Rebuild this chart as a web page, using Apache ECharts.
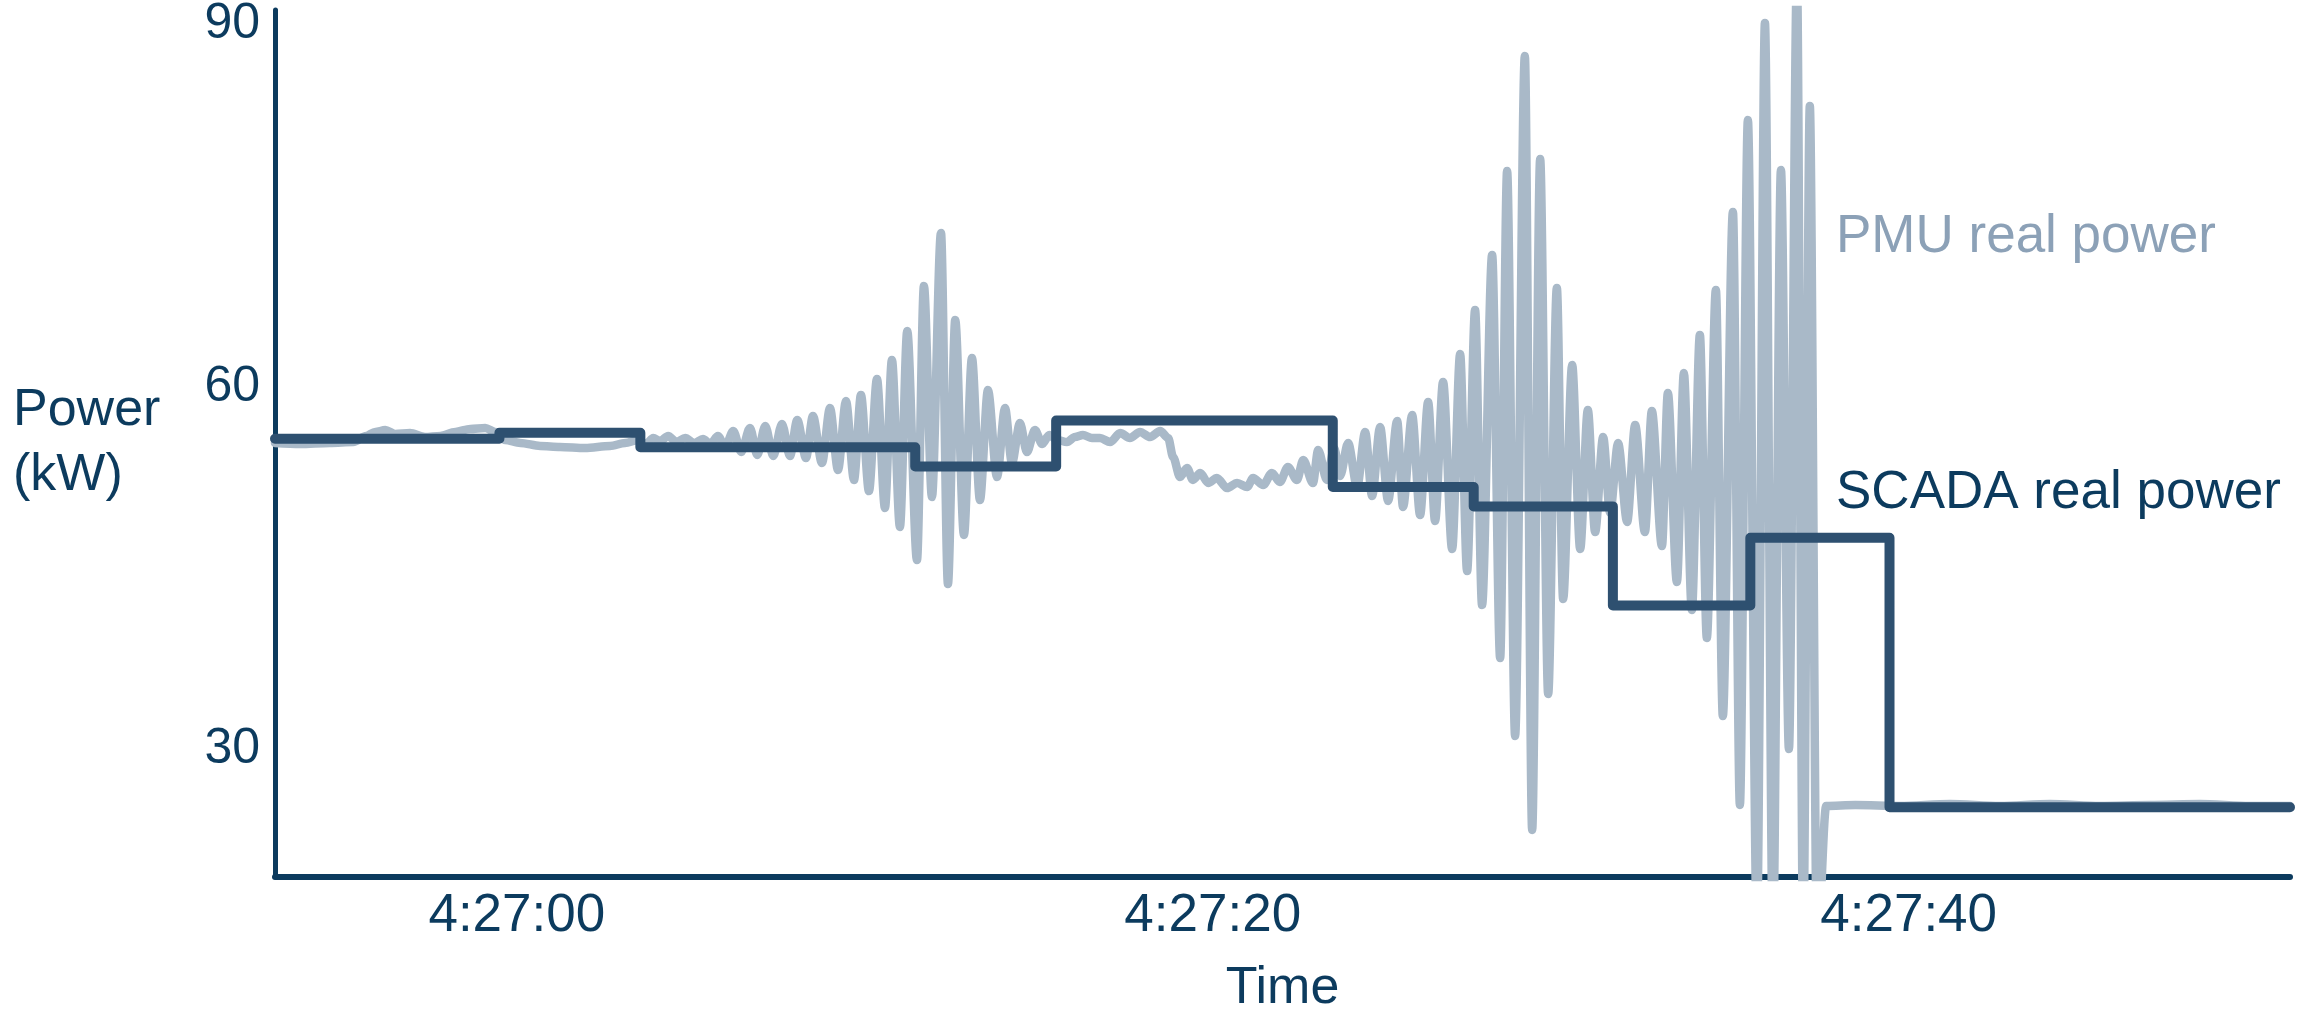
<!DOCTYPE html>
<html>
<head>
<meta charset="utf-8">
<title>PMU vs SCADA real power</title>
<script src="https://cdn.jsdelivr.net/npm/echarts@6/dist/echarts.min.js"></script>
<style>
  html, body { margin: 0; padding: 0; background: #ffffff; }
  #chart { width: 2323px; height: 1014px; }
</style>
</head>
<body>
<div id="chart"></div>
<script>
// Seconds after 4:27:00 and real power in kW.

// PMU real power (high-rate phasor measurement)
const pmuTime = [
  -6.95, -6.23, -5.37, -4.70, -4.33, -4.07, -3.78, -3.50, -3.07, -2.64, -2.20, -1.77,
  -1.34, -0.91, -0.62, -0.34, 0.10, 0.67, 1.24, 1.96, 2.68, 3.11, 3.49, 3.72,
  3.92, 4.12, 4.35, 4.58, 4.84, 5.10, 5.35, 5.56, 5.78, 5.99, 6.22, 6.45,
  6.70, 6.91, 7.14, 7.37, 7.62, 7.85, 8.06, 8.31, 8.51, 8.77, 9.00, 9.23,
  9.46, 9.69, 9.89, 10.12, 10.35, 10.58, 10.78, 11.01, 11.22, 11.50, 11.70, 11.93,
  12.19, 12.39, 12.60, 12.85, 13.08, 13.31, 13.54, 13.80, 14.03, 14.23, 14.46, 14.66,
  14.89, 15.10, 15.30,
  15.53, 15.81, 16.04, 16.27, 16.53, 16.76, 17.05, 17.34, 17.62, 17.91, 18.20, 18.49,
  18.72, 18.86, 19.06, 19.26, 19.43, 19.64, 19.87, 20.12, 20.41, 20.70, 20.99, 21.16,
  21.45, 21.70, 21.93, 22.16, 22.42, 22.60, 22.88, 23.03, 23.28,
  23.49, 23.66, 23.89, 24.15, 24.38, 24.58, 24.81, 25.04, 25.30, 25.47, 25.73, 25.96,
  26.19, 26.39, 26.62, 26.88, 27.11, 27.31, 27.54, 27.74, 28.03, 28.26, 28.46, 28.69,
  28.97, 29.18, 29.41, 29.64, 29.89, 30.07, 30.33, 30.56, 30.78, 30.99, 31.22, 31.42,
  31.65, 31.91,
  32.14, 32.42, 32.62, 32.91, 33.08, 33.34, 33.54, 33.77, 34.00, 34.20, 34.46, 34.66,
  34.95, 35.15, 35.38, 35.64, 35.87, 36.10, 36.33, 36.56, 36.79, 36.97, 37.16, 37.37,
  37.63,
  38.47, 39.75, 41.19, 42.62, 44.06, 45.50, 46.93, 48.37, 49.81, 50.96
];
const pmuPower = [
  55.35, 55.26, 55.35, 55.43, 55.93, 56.26, 56.42, 56.09, 56.17, 55.84, 55.93, 56.26,
  56.51, 56.59, 56.26, 55.60, 55.35, 55.10, 55.02, 54.93, 55.10, 55.35, 55.60, 55.26,
  55.76, 55.51, 55.93, 55.43, 55.76, 55.35, 55.68, 55.26, 55.93, 55.02, 56.34, 54.60,
  56.59, 54.35, 56.75, 54.27, 56.92, 54.27, 57.25, 54.11, 57.58, 53.69, 58.24, 53.11,
  58.82, 52.29, 59.32, 51.37, 60.64, 49.97, 62.22, 48.40, 64.62, 45.66, 68.34, 50.88,
  72.73, 43.68, 65.53, 47.73, 62.38, 50.63, 59.73, 52.53, 58.24, 53.69, 57.00, 54.60,
  56.42, 55.26, 56.01,
  55.60, 55.43, 55.84, 56.01, 55.76, 55.76, 55.43, 56.17, 55.76, 56.26, 55.84, 56.34,
  55.76, 54.19, 52.53, 53.28, 52.29, 52.86, 52.04, 52.45, 51.62, 52.04, 51.71, 52.45,
  51.87, 52.86, 52.12, 53.36, 52.29, 53.94, 52.04, 54.77, 52.29,
  54.93, 52.62, 55.35, 51.71, 56.26, 50.96, 56.67, 50.55, 57.17, 50.05, 57.66, 49.39,
  58.74, 48.89, 60.40, 46.57, 62.71, 44.75, 66.35, 41.94, 70.91, 37.55, 77.86, 31.10,
  87.38, 23.32, 78.85, 34.57, 68.18, 42.44, 61.80, 46.57, 58.08, 47.98, 55.84, 49.55,
  55.35, 48.81,
  56.84, 47.98, 57.99, 46.82, 59.49, 43.84, 61.14, 41.53, 64.29, 39.21, 68.01, 32.75,
  74.47, 25.39, 82.08, 15.00, 90.11, 14.00, 77.94, 30.02, 94.00, 14.00, 83.24, 13.00,
  25.31,
  25.39, 25.31, 25.47, 25.31, 25.47, 25.31, 25.39, 25.47, 25.31, 25.31
];

// SCADA real power: each entry is an update time and the value held from then on
const scadaTime  = [-6.95, -0.50, 3.55, 11.45, 15.50, 23.45, 27.50, 31.50, 35.45, 39.45, 50.96];
const scadaPower = [55.70, 56.20, 55.00, 53.40, 57.20, 51.70, 50.10, 41.90, 47.50, 25.20, 25.20];

// Axis ticks
const timeTicks  = [0, 20, 40];
const powerTicks = [30, 60, 90];
const clockOrigin = 4 * 3600 + 27 * 60; // 4:27:00

const FONT = '"Liberation Sans", Arial, Helvetica, sans-serif';
const NAVY = '#0c3b5e';
const SCADA_COLOR = '#2e5070';
const PMU_COLOR = '#a9b9c8';
const PMU_TEXT = '#8ca1b7';

function clockLabel(sec) {
  const s = Math.round(clockOrigin + sec);
  const h = Math.floor(s / 3600);
  const m = Math.floor((s % 3600) / 60);
  const ss = s % 60;
  return h + ':' + String(m).padStart(2, '0') + ':' + String(ss).padStart(2, '0');
}

const zip = (xs, ys) => xs.map((x, i) => [x, ys[i]]);

const chart = echarts.init(document.getElementById('chart'), null, { renderer: 'canvas' });

chart.setOption({
  animation: false,
  backgroundColor: '#ffffff',
  grid: { left: 275, right: 33, top: 10, bottom: 137, outerBoundsMode: 'none' },
  legend: {
    orient: 'vertical',
    left: 1826,
    top: 202,
    itemGap: 196,
    itemWidth: 0,
    itemHeight: 0,
    icon: 'rect',
    selectedMode: false,
    itemStyle: { opacity: 0 },
    lineStyle: { opacity: 0 },
    textStyle: { fontSize: 53, fontFamily: FONT, lineHeight: 60 },
    data: [
      { name: 'PMU real power', textStyle: { color: PMU_TEXT } },
      { name: 'SCADA real power', textStyle: { color: NAVY } }
    ]
  },
  xAxis: {
    type: 'value',
    min: -6.95,
    max: 50.96,
    axisLine: { show: true, onZero: false, lineStyle: { color: NAVY, width: 6, cap: 'round' } },
    axisTick: { show: false },
    splitLine: { show: false },
    axisLabel: {
      customValues: timeTicks,
      formatter: clockLabel,
      color: NAVY,
      fontSize: 53,
      fontFamily: FONT,
      margin: 13
    },
    name: 'Time',
    nameLocation: 'middle',
    nameGap: 86,
    nameTextStyle: { color: NAVY, fontSize: 52, fontFamily: FONT }
  },
  yAxis: {
    type: 'value',
    min: 19.43,
    max: 91.18,
    axisLine: { show: true, onZero: false, lineStyle: { color: NAVY, width: 5 } },
    axisTick: { show: false },
    splitLine: { show: false },
    axisLabel: {
      customValues: powerTicks,
      color: NAVY,
      fontSize: 50,
      fontFamily: FONT,
      margin: 15
    },
    name: 'Power\n(kW)',
    nameLocation: 'middle',
    nameRotate: 0,
    nameGap: 262,
    nameTextStyle: {
      color: NAVY, fontSize: 52, fontFamily: FONT,
      align: 'left', verticalAlign: 'middle', lineHeight: 65
    }
  },
  series: [
    {
      name: 'PMU real power',
      type: 'line',
      data: zip(pmuTime, pmuPower),
      showSymbol: false,
      symbol: 'none',
      smooth: 0.3,
      smoothMonotone: 'x',
      clip: true,
      z: 2,
      lineStyle: { color: PMU_COLOR, width: 8.5, cap: 'round', join: 'round' },
      itemStyle: { color: PMU_COLOR }
    },
    {
      name: 'SCADA real power',
      type: 'line',
      step: 'end',
      data: zip(scadaTime, scadaPower),
      showSymbol: false,
      symbol: 'none',
      clip: true,
      z: 3,
      lineStyle: { color: SCADA_COLOR, width: 10, cap: 'round', join: 'round' },
      itemStyle: { color: SCADA_COLOR }
    }
  ]
});
</script>
</body>
</html>
